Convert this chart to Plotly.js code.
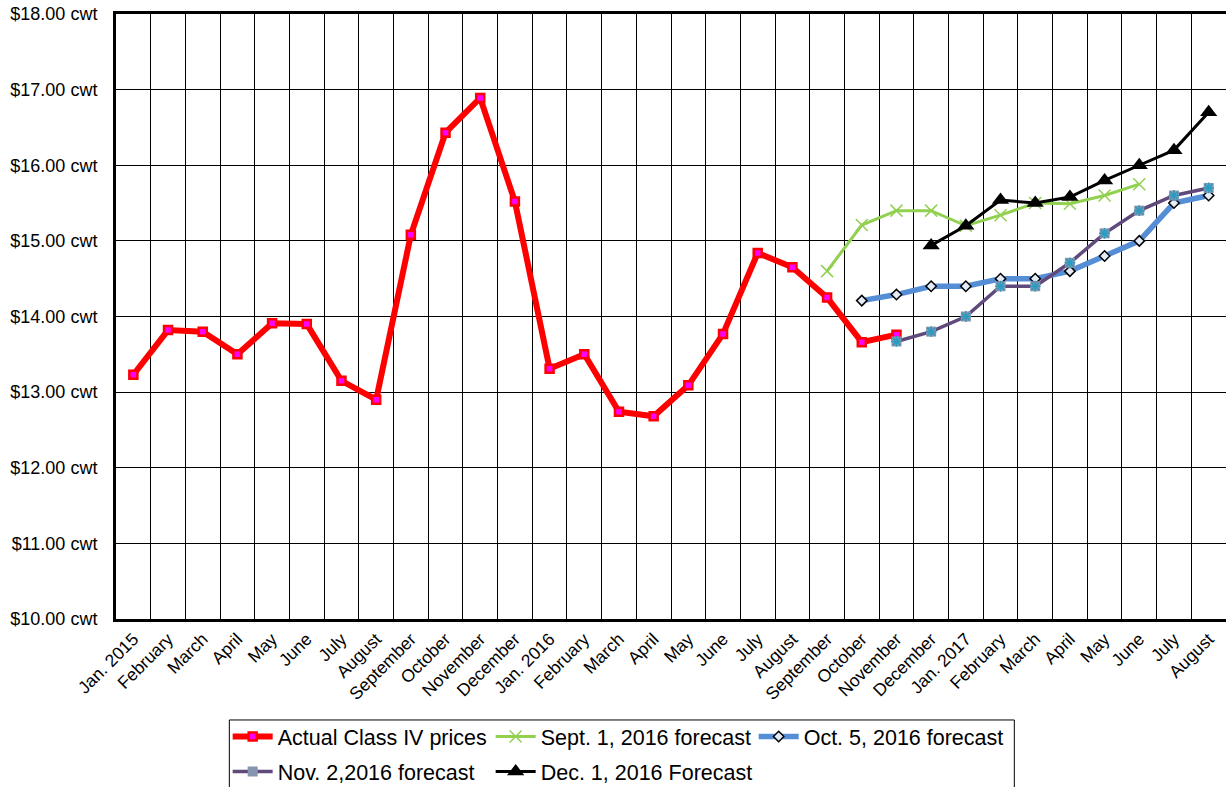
<!DOCTYPE html>
<html>
<head>
<meta charset="utf-8">
<script src="https://cdn.plot.ly/plotly-3.0.1.min.js"></script>
<style>html,body{margin:0;padding:0;background:#fff;}#chart{width:1226px;height:787px;}</style>
</head>
<body>
<div id="chart"></div>
<script>
var monthLabels = ["Jan. 2015","February","March","April","May","June","July","August","September","October","November","December",
  "Jan. 2016","February","March","April","May","June","July","August","September","October","November","December",
  "Jan. 2017","February","March","April","May","June","July","August"];

var actualPrices = [13.23,13.82,13.80,13.50,13.91,13.90,13.15,12.90,15.08,16.43,16.89,15.52,
  13.31,13.50,12.74,12.68,13.09,13.77,14.84,14.65,14.25,13.66,13.76,null,
  null,null,null,null,null,null,null,null];
var sept1Forecast = [null,null,null,null,null,null,null,null,null,null,null,null,
  null,null,null,null,null,null,null,null,14.60,15.21,15.40,15.40,
  15.20,15.34,15.50,15.49,15.60,15.75,null,null];
var oct5Forecast = [null,null,null,null,null,null,null,null,null,null,null,null,
  null,null,null,null,null,null,null,null,null,14.21,14.29,14.40,
  14.40,14.50,14.50,14.60,14.80,15.00,15.50,15.60];
var nov2Forecast = [null,null,null,null,null,null,null,null,null,null,null,null,
  null,null,null,null,null,null,null,null,null,null,13.67,13.80,
  14.00,14.40,14.40,14.71,15.10,15.40,15.60,15.70];
var dec1Forecast = [null,null,null,null,null,null,null,null,null,null,null,null,
  null,null,null,null,null,null,null,null,null,null,null,14.94,
  15.20,15.54,15.50,15.58,15.80,16.00,16.20,16.70];

var seriesNames = ["Actual Class IV prices","Sept. 1, 2016 forecast","Oct. 5, 2016 forecast","Nov. 2,2016 forecast","Dec. 1, 2016 Forecast"];

var xIdx = monthLabels.map(function(_, i){ return i; });
var FONT = 'Arial, "Liberation Sans", sans-serif';

var traces = [
  {x:xIdx, y:actualPrices, name:seriesNames[0], type:'scatter', mode:'lines+markers', legend:'legend',
   line:{color:'#FF0000', width:6},
   marker:{symbol:'square', size:8, color:'#FF00FF', line:{color:'#FF0000', width:2.5}}},
  {x:xIdx, y:sept1Forecast, name:seriesNames[1], type:'scatter', mode:'lines+markers', legend:'legend',
   line:{color:'#92D050', width:3},
   marker:{symbol:'x-thin-open', size:12, color:'#92D050', line:{color:'#92D050', width:1.5}}},
  {x:xIdx, y:oct5Forecast, name:seriesNames[2], type:'scatter', mode:'lines+markers', legend:'legend',
   line:{color:'#558ED5', width:5.5},
   marker:{symbol:'diamond', size:8, color:'#E3ECF7', line:{color:'#000000', width:1.5}}},
  {x:xIdx, y:nov2Forecast, name:seriesNames[3], type:'scatter', mode:'lines+markers', legend:'legend2',
   line:{color:'#604A7B', width:3.5},
   marker:{symbol:'square', size:10, color:'#8795B0', line:{color:'#8795B0', width:0}}},
  {x:xIdx, y:nov2Forecast, name:seriesNames[3], type:'scatter', mode:'markers', showlegend:false, hoverinfo:'skip',
   marker:{symbol:'asterisk-open', size:9, color:'#2A9CC0', line:{color:'#2A9CC0', width:1.5}}},
  {x:xIdx, y:dec1Forecast, name:seriesNames[4], type:'scatter', mode:'lines+markers', legend:'legend2',
   line:{color:'#000000', width:3},
   marker:{symbol:'triangle-up', size:15, color:'#000000'}}
];

var legendCommon = {orientation:'h', xanchor:'left', yanchor:'top', bgcolor:'rgba(0,0,0,0)', borderwidth:0,
  font:{family:FONT, size:21.5, color:'#000'}, itemwidth:40, entrywidth:208, entrywidthmode:'pixels', traceorder:'normal'};

var layout = {
  width:1226, height:787,
  margin:{l:116, r:0, t:14, b:168, autoexpand:false},
  paper_bgcolor:'#fff', plot_bgcolor:'#fff',
  font:{family:FONT, color:'#000'},
  showlegend:true,
  xaxis:{
    range:[-0.5, 31.5], tickmode:'array', tickvals:xIdx, ticktext:monthLabels,
    tickangle:-45, tickfont:{family:FONT, size:17.5, color:'#000'},
    showgrid:false, zeroline:false, ticks:'',
    showline:true, linecolor:'#000', linewidth:3, mirror:true,
    minor:{tickmode:'linear', tick0:0.5, dtick:1, showgrid:true, gridcolor:'#000', gridwidth:1, ticks:''}
  },
  yaxis:{
    range:[10, 18], dtick:1, tick0:10, tickformat:'.2f', tickprefix:'$', ticksuffix:' cwt',
    tickfont:{family:FONT, size:18, color:'#000'},
    showgrid:true, gridcolor:'#000', gridwidth:1, zeroline:false, ticks:'', ticklabelstandoff:12,
    showline:true, linecolor:'#000', linewidth:3, mirror:true
  },
  legend: Object.assign({x:0.1006, y:-0.1603}, legendCommon),
  legend2: Object.assign({x:0.1006, y:-0.2182}, legendCommon),
  shapes:[{type:'rect', xref:'paper', yref:'paper', x0:0.1021, x1:0.8093, y0:-0.1669, y1:-0.32,
    line:{color:'#000', width:1}, fillcolor:'rgba(0,0,0,0)', layer:'below'}]
};

Plotly.newPlot('chart', traces, layout, {displayModeBar:false, staticPlot:true});
</script>
</body>
</html>
